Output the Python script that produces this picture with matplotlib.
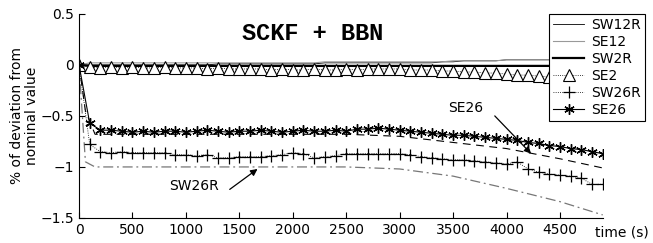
import matplotlib
matplotlib.use('Agg')
import matplotlib.pyplot as plt
import numpy as np

# time axis (s), one sample every 100 s
t = np.arange(0, 5000, 100)

sw12r = [0.0, 0.0, 0.0, 0.0, 0.0, 0.0, 0.0, 0.0, 0.0, 0.0,
         0.0, 0.0, 0.0, 0.01, 0.01, 0.01, 0.01, 0.01, 0.01, 0.01,
         0.01, 0.01, 0.01, 0.02, 0.02, 0.02, 0.02, 0.02, 0.02, 0.02,
         0.02, 0.02, 0.02, 0.02, 0.03, 0.03, 0.04, 0.04, 0.04, 0.04,
         0.05, 0.05, 0.05, 0.05, 0.05, 0.05, 0.05, 0.05, 0.05, 0.05]
se12 = [0.0, 0.02, 0.02, 0.02, 0.02, 0.02, 0.02, 0.02, 0.02, 0.02,
        0.02, 0.02, 0.02, 0.02, 0.02, 0.02, 0.02, 0.02, 0.02, 0.02,
        0.02, 0.02, 0.02, 0.03, 0.03, 0.03, 0.03, 0.03, 0.03, 0.03,
        0.03, 0.03, 0.03, 0.03, 0.03, 0.04, 0.04, 0.04, 0.04, 0.04,
        0.05, 0.05, 0.05, 0.05, 0.05, 0.05, 0.05, 0.05, 0.05, 0.05]
sw2r = [0.0, -0.01, -0.01, -0.01, -0.01, -0.01, -0.01, -0.01, -0.01, -0.01,
        -0.01, -0.01, -0.01, -0.01, -0.01, -0.01, -0.01, -0.01, -0.01, -0.01,
        -0.01, -0.01, -0.01, -0.01, -0.01, -0.01, -0.01, -0.01, -0.01, -0.01,
        -0.01, -0.01, -0.01, -0.01, -0.01, -0.01, -0.01, -0.01, -0.01, -0.01,
        -0.01, -0.01, -0.01, -0.01, -0.01, -0.01, -0.01, -0.01, -0.01, -0.01]
se2 = [0.0, -0.02, -0.03, -0.02, -0.03, -0.02, -0.03, -0.03, -0.02, -0.03,
       -0.03, -0.03, -0.04, -0.03, -0.04, -0.04, -0.04, -0.04, -0.05, -0.04,
       -0.05, -0.05, -0.04, -0.05, -0.05, -0.04, -0.05, -0.04, -0.04, -0.04,
       -0.04, -0.05, -0.05, -0.05, -0.06, -0.06, -0.07, -0.07, -0.08, -0.08,
       -0.09, -0.10, -0.10, -0.11, -0.12, -0.13, -0.14, -0.15, -0.16, -0.17]
sw26r = [0.0, -0.78, -0.85, -0.86, -0.85, -0.86, -0.86, -0.86, -0.86, -0.88,
         -0.88, -0.89, -0.88, -0.91, -0.91, -0.90, -0.90, -0.90, -0.89, -0.88,
         -0.86, -0.87, -0.91, -0.90, -0.89, -0.87, -0.87, -0.87, -0.87, -0.87,
         -0.87, -0.88, -0.90, -0.91, -0.92, -0.93, -0.93, -0.94, -0.95, -0.96,
         -0.97, -0.95, -1.02, -1.05, -1.07, -1.08, -1.09, -1.11, -1.17, -1.17]
se26 = [0.0, -0.57, -0.64, -0.64, -0.65, -0.66, -0.65, -0.66, -0.65, -0.65,
        -0.66, -0.65, -0.64, -0.65, -0.66, -0.65, -0.65, -0.64, -0.65, -0.66,
        -0.65, -0.64, -0.65, -0.65, -0.64, -0.65, -0.63, -0.63, -0.62, -0.63,
        -0.64, -0.65, -0.66, -0.67, -0.68, -0.69, -0.69, -0.70, -0.71, -0.72,
        -0.73, -0.74, -0.76, -0.77, -0.79, -0.80, -0.82, -0.83, -0.85, -0.87]

# nominal (true) deviations of the faulty elements
t_true = [0, 60, 150, 1000, 2000, 2500, 3000, 3500, 4000, 4500, 4900]
se26_true = [0.0, -0.45, -0.68, -0.68, -0.68, -0.68, -0.70, -0.76, -0.82, -0.92, -1.01]
sw26r_true = [0.0, -0.95, -1.0, -1.0, -1.0, -1.0, -1.02, -1.09, -1.21, -1.34, -1.47]

fig = plt.figure(figsize=(6.53, 2.43), dpi=100)
ax = fig.add_axes([0.121, 0.103, 0.802, 0.840])

ax.plot(t_true, se26_true, color='black', lw=0.8, ls=(0, (7, 5)))
ax.plot(t_true, sw26r_true, color='#777777', lw=0.9, ls=(0, (8, 3, 1.5, 3)))

ax.plot(t, sw12r, color='black', lw=0.6, label='SW12R')
ax.plot(t, se12, color='#999999', lw=0.8, label='SE12')
ax.plot(t, sw2r, color='black', lw=1.6, label='SW2R')
ax.plot(t, se2, color='black', lw=0.6, ls=':', marker='^', ms=8,
        mfc='white', mec='black', mew=0.8, label='SE2')
ax.plot(t, sw26r, color='black', lw=0.6, ls=':', marker='+', ms=8,
        mew=0.9, label='SW26R')
ax.plot(t, se26, color='black', lw=0.8, marker=(6, 2, 0), ms=7.5,
        mew=1.0, label='SE26')

ax.set_xlim(0, 4900)
ax.set_ylim(-1.5, 0.5)
ax.set_xticks(np.arange(0, 4501, 500))
ax.set_yticks([-1.5, -1, -0.5, 0, 0.5])
ax.set_yticklabels(['\u22121.5', '\u22121', '\u22120.5', '0', '0.5'])
ax.spines['top'].set_visible(False)
ax.spines['right'].set_visible(False)
ax.tick_params(direction='in', length=4, labelsize=10, width=0.8)
ax.set_ylabel('% of deviation from\nnominal value', fontsize=10,
              linespacing=1.1, labelpad=1)
fig.text(0.993, 0.045, 'time (s)', ha='right', va='center', fontsize=10)

ax.text(2190, 0.31, 'SCKF + BBN', ha='center', va='center',
        fontsize=17, fontweight='bold', family='Liberation Mono')

ax.text(1080, -1.19, 'SW26R', ha='center', va='center', fontsize=10)
ax.annotate('', xy=(1670, -1.02), xytext=(1410, -1.22),
            arrowprops=dict(arrowstyle='-|>', color='black', lw=0.9,
                            mutation_scale=10, shrinkA=0, shrinkB=0))
ax.text(3620, -0.42, 'SE26', ha='center', va='center', fontsize=10)
ax.annotate('', xy=(4230, -0.87), xytext=(3890, -0.5),
            arrowprops=dict(arrowstyle='-|>', color='black', lw=0.9,
                            mutation_scale=10, shrinkA=0, shrinkB=0))

leg = fig.legend(loc='upper right', bbox_to_anchor=(0.998, 0.972),
                 fontsize=10, labelspacing=0.22, handlelength=2.2,
                 handletextpad=0.5, borderpad=0.3, fancybox=False,
                 edgecolor='black', framealpha=1)
leg.get_frame().set_linewidth(0.8)

fig.savefig('out.png', dpi=100)
